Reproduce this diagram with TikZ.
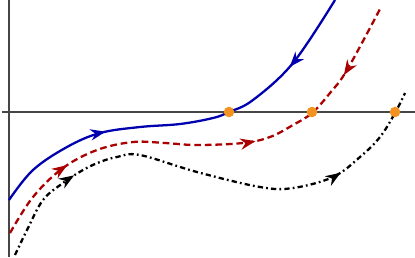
\documentclass[tikz,border=0pt]{standalone}
\usetikzlibrary{arrows.meta,decorations.markings}
\definecolor{curveblue}{RGB}{0,0,175}
\definecolor{curvered}{RGB}{170,0,0}
\definecolor{rootorange}{RGB}{243,146,30}
\definecolor{axisgray}{RGB}{70,70,70}
\tikzset{
  axisline/.style={draw=axisgray,line width=0.5pt},
  flow/.style={line width=0.65pt},
  root/.style={fill=rootorange},
}
\newcommand{\fwd}{\arrow{Stealth[length=4.3pt,width=3.2pt]}}
\newcommand{\bwd}{\arrowreversed{Stealth[length=4.3pt,width=3.2pt]}}
\begin{document}
\begin{tikzpicture}[x=0.01cm,y=-0.01cm]
\useasboundingbox (0,0) rectangle (415,257);
% axes
\draw[axisline] (9,0) -- (9,257);
\draw[axisline] (2,112) -- (415,112);
% blue curve
\draw[flow,curveblue,postaction={decorate},decoration={markings,
  mark=at position 0.30 with {\fwd},mark=at position 0.80 with {\bwd}}]
  plot[smooth,tension=0.6] coordinates {(9,200) (33,170) (67,147) (100,133) (140,127)
  (180,124) (213,118) (229,112) (253,100) (293,63) (335,0)};
% red curve
\draw[flow,curvered,dash pattern=on 1.9pt off 1.1pt,postaction={decorate},decoration={markings,
  mark=at position 0.19 with {\fwd},mark=at position 0.60 with {\fwd},
  mark=at position 0.84 with {\bwd}}]
  plot[smooth,tension=0.6] coordinates {(10,233) (33,197) (63,168) (97,150) (133,142)
  (165,143) (197,145) (243,143) (270,137) (293,125) (312,113) (330,93) (347,70) (380,9)};
% black curve
\draw[flow,black,dash pattern=on 1.5pt off 0.9pt on 0.5pt off 0.9pt,postaction={decorate},decoration={markings,
  mark=at position 0.21 with {\fwd},mark=at position 0.785 with {\fwd}}]
  plot[smooth,tension=0.6] coordinates {(15,255) (27,230) (43,200) (63,183) (83,170)
  (100,162) (117,157) (140,155) (197,172) (260,187) (293,188) (333,177) (360,157)
  (380,137) (395,113) (405,93)};
% roots
\fill[root] (229,112) circle[radius=1.5pt];
\fill[root] (312,112) circle[radius=1.5pt];
\fill[root] (395,112) circle[radius=1.5pt];
\end{tikzpicture}
\end{document}
